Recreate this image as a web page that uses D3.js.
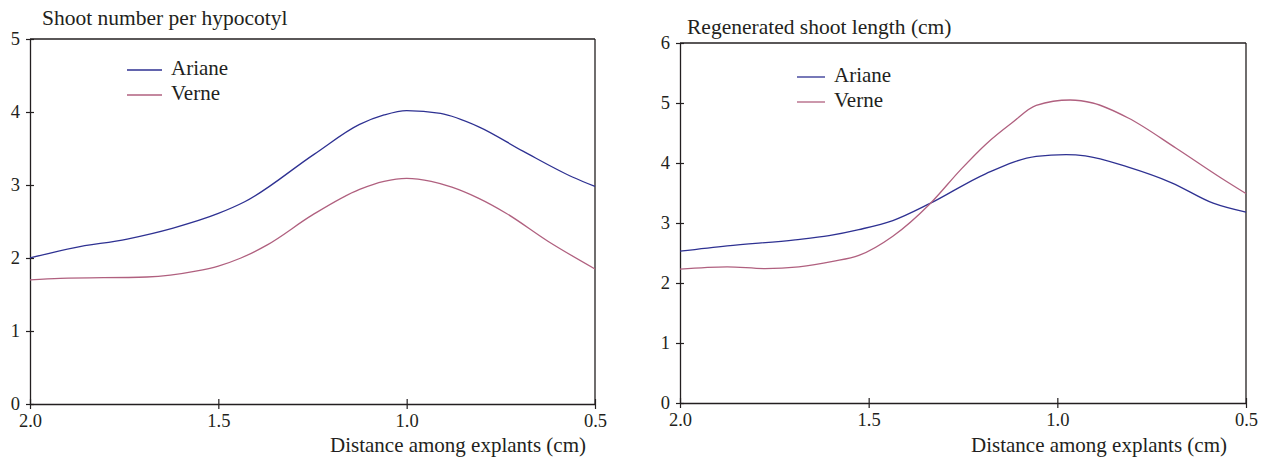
<!DOCTYPE html>
<html>
<head>
<meta charset="utf-8">
<script src="https://cdn.jsdelivr.net/npm/d3@7"></script>
<style>
  html, body { margin: 0; padding: 0; background: #fff; }
  svg text { font-family: "Liberation Serif", "Times New Roman", serif; fill: #231f20; }
</style>
</head>
<body>
<svg id="chart" width="1270" height="458"></svg>
<script>
// ---- Data ----
const seriesNames = ["Ariane", "Verne"];
const xTickLabels = ["2.0", "1.5", "1.0", "0.5"];
const xTickValues = [2.0, 1.5, 1.0, 0.5];

// Panel A: Shoot number per hypocotyl
const shootNumAriane_x = [2.0, 1.884, 1.742, 1.62, 1.50, 1.43, 1.246, 1.125, 1.06, 1.0, 0.91, 0.81, 0.69, 0.56, 0.5];
const shootNumAriane_y = [2.0, 2.14, 2.26, 2.41, 2.61, 2.77, 3.42, 3.83, 3.96, 4.02, 3.98, 3.80, 3.46, 3.11, 2.98];
const shootNumVerne_x  = [2.0, 1.92, 1.69, 1.56, 1.50, 1.44, 1.37, 1.25, 1.125, 1.06, 1.0, 0.935, 0.88, 0.81, 0.735, 0.625, 0.5];
const shootNumVerne_y  = [1.70, 1.72, 1.74, 1.82, 1.89, 2.0, 2.18, 2.59, 2.94, 3.05, 3.09, 3.05, 2.97, 2.82, 2.61, 2.23, 1.85];

// Panel B: Regenerated shoot length (cm)
const shootLenAriane_x = [2.0, 1.875, 1.695, 1.605, 1.526, 1.436, 1.336, 1.19, 1.056, 0.977, 0.926, 0.812, 0.697, 0.587, 0.5];
const shootLenAriane_y = [2.53, 2.62, 2.72, 2.79, 2.89, 3.04, 3.33, 3.82, 4.11, 4.14, 4.12, 3.93, 3.67, 3.33, 3.18];
const shootLenVerne_x  = [2.0, 1.875, 1.775, 1.685, 1.595, 1.526, 1.436, 1.336, 1.256, 1.19, 1.12, 1.056, 0.966, 0.906, 0.812, 0.686, 0.566, 0.5];
const shootLenVerne_y  = [2.23, 2.27, 2.24, 2.27, 2.36, 2.46, 2.78, 3.33, 3.89, 4.31, 4.67, 4.96, 5.05, 5.0, 4.75, 4.25, 3.75, 3.49];

const panelA_yTicks = [0, 1, 2, 3, 4, 5];
const panelB_yTicks = [0, 1, 2, 3, 4, 5, 6];

const colors = { Ariane: "#2e3192", Verne: "#b0607f" };

const svg = d3.select("#chart");

function drawPanel(opts) {
  const { left, right, top, bottom, yMax, yTicks, title, titleX, titleY,
          series, legendX, legendY, legendLine, legendGap, axisTitleX } = opts;
  const g = svg.append("g");
  const x = d3.scaleLinear().domain([2.0, 0.5]).range([left, right]);
  const y = d3.scaleLinear().domain([0, yMax]).range([bottom, top]);

  // frame: top and right lines
  g.append("line").attr("x1", left).attr("x2", right).attr("y1", top).attr("y2", top)
    .attr("stroke", "#231f20").attr("stroke-width", 1.3);
  g.append("line").attr("x1", right).attr("x2", right).attr("y1", top).attr("y2", bottom)
    .attr("stroke", "#231f20").attr("stroke-width", 1.3);

  // Y axis
  const yAxis = d3.axisLeft(y).tickValues(yTicks).tickFormat(d3.format("d"))
    .tickSizeInner(4).tickSizeOuter(0).tickPadding(6);
  const ya = g.append("g").attr("transform", `translate(${left},0)`).call(yAxis);
  ya.select(".domain").attr("stroke", "#231f20").attr("stroke-width", 1.3);
  ya.selectAll(".tick line").attr("x2", 4).attr("x1", -4).attr("stroke", "#231f20").attr("stroke-width", 1.2);
  ya.selectAll(".tick text").attr("font-size", 18.5).attr("font-family", "Liberation Serif").attr("fill", "#231f20").attr("x", -10);

  // X axis
  const xAxis = d3.axisBottom(x).tickValues(xTickValues)
    .tickFormat((d, i) => xTickLabels[i]).tickSizeInner(4).tickSizeOuter(0).tickPadding(6);
  const xa = g.append("g").attr("transform", `translate(0,${bottom})`).call(xAxis);
  xa.select(".domain").attr("stroke", "#231f20").attr("stroke-width", 1.3);
  xa.selectAll(".tick line").attr("y1", -5).attr("y2", 5).attr("stroke", "#231f20").attr("stroke-width", 1.2);
  xa.selectAll(".tick text").attr("font-size", 18.5).attr("font-family", "Liberation Serif").attr("fill", "#231f20").attr("y", 10);

  // titles
  g.append("text").attr("x", titleX).attr("y", titleY).attr("font-size", 21.5).text(title);
  g.append("text").attr("x", axisTitleX).attr("y", 452).attr("text-anchor", "end")
    .attr("font-size", 21).text("Distance among explants (cm)");

  // lines
  const line = d3.line().x(d => x(d[0])).y(d => y(d[1])).curve(d3.curveMonotoneX);
  series.forEach(s => {
    const pts = s.xs.map((v, i) => [v, s.ys[i]]);
    g.append("path").datum(pts).attr("d", line).attr("fill", "none")
      .attr("stroke", colors[s.name]).attr("stroke-width", 1.3);
  });

  // legend
  seriesNames.forEach((n, i) => {
    const ly = legendY + i * legendGap;
    g.append("line").attr("x1", legendX).attr("x2", legendX + legendLine)
      .attr("y1", ly).attr("y2", ly).attr("stroke", colors[n]).attr("stroke-width", 1.3);
    g.append("text").attr("x", legendX + legendLine + 9).attr("y", ly + 5)
      .attr("font-size", 21).text(n);
  });
}

drawPanel({
  left: 30, right: 595, top: 39, bottom: 404, yMax: 5, yTicks: panelA_yTicks,
  title: "Shoot number per hypocotyl", titleX: 42, titleY: 25,
  series: [
    { name: "Ariane", xs: shootNumAriane_x, ys: shootNumAriane_y },
    { name: "Verne", xs: shootNumVerne_x, ys: shootNumVerne_y }
  ],
  legendX: 127, legendY: 70, legendLine: 35, legendGap: 25, axisTitleX: 586
});

drawPanel({
  left: 680, right: 1246, top: 43, bottom: 403, yMax: 6, yTicks: panelB_yTicks,
  title: "Regenerated shoot length (cm)", titleX: 687, titleY: 34,
  series: [
    { name: "Ariane", xs: shootLenAriane_x, ys: shootLenAriane_y },
    { name: "Verne", xs: shootLenVerne_x, ys: shootLenVerne_y }
  ],
  legendX: 797, legendY: 77, legendLine: 28, legendGap: 25, axisTitleX: 1227
});
</script>
</body>
</html>
